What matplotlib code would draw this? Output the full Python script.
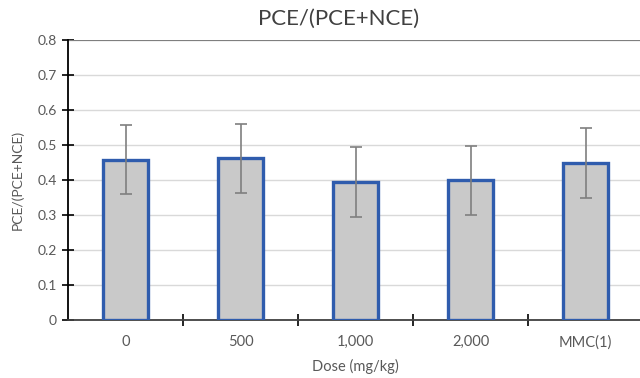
import matplotlib
matplotlib.use("Agg")
import matplotlib.pyplot as plt
import numpy as np

# data
doses = ["0", "500", "1,000", "2,000", "MMC(1)"]
ratio = [0.458, 0.462, 0.394, 0.399, 0.448]
ratio_err = [0.099, 0.099, 0.100, 0.099, 0.100]
yticks = [0, 0.1, 0.2, 0.3, 0.4, 0.5, 0.6, 0.7, 0.8]

plt.rcParams["font.family"] = ["Lato", "DejaVu Sans"]
text_col = "#595959"

fig = plt.figure(figsize=(6.4, 3.78), dpi=100)
ax = fig.add_axes([68 / 640, 1 - 320 / 378, 575 / 640, 280 / 378])

x = np.arange(len(doses))
ax.bar(x, ratio, width=0.39, color="#c9c9c9", edgecolor="#2f5cad",
       linewidth=2.4, zorder=3)
ax.errorbar(x, ratio, yerr=ratio_err, fmt="none", ecolor="#7f7f7f",
            elinewidth=1.2, capsize=4, capthick=1.2, zorder=4)

ax.set_xlim(-0.5, len(doses) - 0.5)
ax.set_ylim(0, 0.8)
ax.set_yticks(yticks)
ax.set_yticklabels(["0"] + [f"{v:.1f}" for v in yticks[1:]])
ax.yaxis.grid(True, color="#d9d9d9", linewidth=1, zorder=0)
ax.axhline(0.8, color="#7f7f7f", linewidth=1.5, zorder=2)

# category labels at centers, tick marks between categories
ax.set_xticks(x)
ax.set_xticklabels(doses)
ax.set_xticks(np.arange(len(doses)) + 0.5, minor=True)
ax.tick_params(axis="x", which="major", length=0, pad=11, labelsize=10.5,
               labelcolor=text_col)
ax.tick_params(axis="x", which="minor", direction="inout", length=8,
               width=1.2, color="black")
ax.tick_params(axis="y", direction="inout", length=8, width=1.2,
               color="black", labelsize=10, labelcolor=text_col, pad=4)

for side in ("top", "right"):
    ax.spines[side].set_visible(False)
ax.spines["left"].set_linewidth(1.3)
ax.spines["bottom"].set_linewidth(1.3)
ax.spines["bottom"].set_color("#404040")

# title sits a little left of the axes centre in the reference
fig.text(339 / 640, 1 - 19 / 378, "PCE/(PCE+NCE)", fontsize=16,
         color="#404040", ha="center", va="center")
ax.set_xlabel("Dose (mg/kg)", fontsize=10.5, color=text_col, labelpad=7)
ax.set_ylabel("PCE/(PCE+NCE)", fontsize=10, color=text_col, labelpad=10)

fig.savefig("out.png", dpi=100)
